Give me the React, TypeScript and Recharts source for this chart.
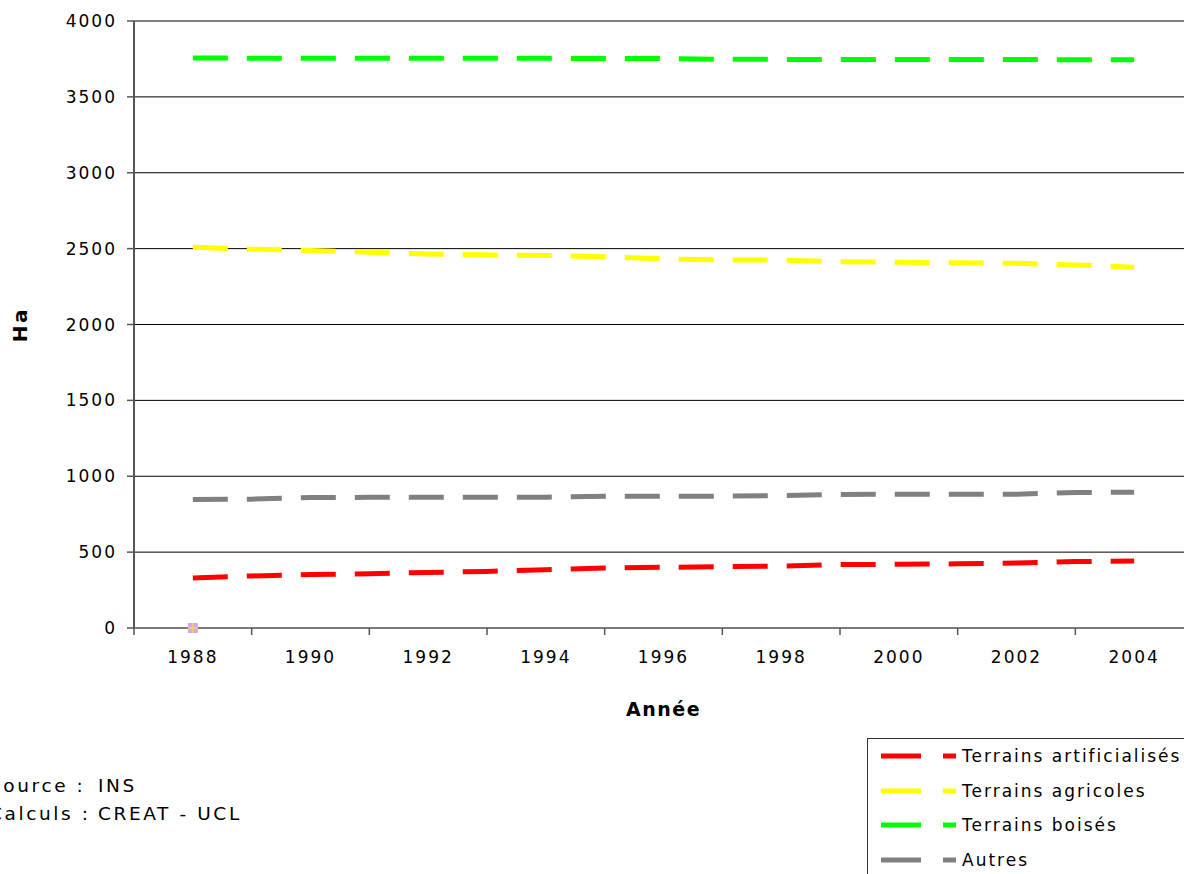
import { CartesianGrid, Line, LineChart, XAxis, YAxis } from "recharts";

const years = [1988, 1989, 1990, 1991, 1992, 1993, 1994, 1995, 1996, 1997, 1998, 1999, 2000, 2001, 2002, 2003, 2004];
const artificialises = [330, 343, 352, 358, 366, 373, 384, 396, 400, 404, 408, 418, 420, 423, 428, 438, 441];
const agricoles = [2509, 2496, 2488, 2476, 2465, 2459, 2455, 2447, 2432, 2426, 2424, 2414, 2410, 2407, 2403, 2392, 2378];
const boises = [3756, 3755, 3755, 3755, 3754, 3754, 3754, 3753, 3753, 3748, 3747, 3747, 3746, 3746, 3746, 3745, 3745];
const autres = [847, 849, 860, 861, 861, 861, 862, 869, 869, 869, 872, 880, 881, 881, 882, 893, 895];
const total = [0];

const yTicks = [0, 500, 1000, 1500, 2000, 2500, 3000, 3500, 4000];
const labelYears = [1988, 1990, 1992, 1994, 1996, 1998, 2000, 2002, 2004];
const tickMarkYears = [1987, 1989, 1991, 1993, 1995, 1997, 1999, 2001, 2003, 2005];

const SERIES = [
  { key: "artificialises", name: "Terrains artificialisés", color: "#ff0000" },
  { key: "agricoles", name: "Terrains agricoles", color: "#ffff00" },
  { key: "boises", name: "Terrains boisés", color: "#00ff00" },
  { key: "autres", name: "Autres", color: "#808080" },
];

const data = years.map((year, i) => ({
  year,
  artificialises: artificialises[i],
  agricoles: agricoles[i],
  boises: boises[i],
  autres: autres[i],
  total: i < total.length ? total[i] : null,
}));

const FONT = "'DejaVu Sans', Verdana, sans-serif";
const TEXT_STYLE = { fontFamily: FONT, fontSize: 17, letterSpacing: 2, fill: "#000" };
const TITLE_STYLE = { ...TEXT_STYLE, fontSize: 19, fontWeight: "bold", letterSpacing: 1.5 };
const DASH = "35 19";

function XTick({ x, y, payload }: any) {
  const year = payload.value;
  if (tickMarkYears.includes(year)) {
    return <line x1={x} y1={y} x2={x} y2={y + 7} stroke="#555" strokeWidth={1.5} />;
  }
  return (
    <text x={x} y={y + 35} textAnchor="middle" style={TEXT_STYLE}>
      {year}
    </text>
  );
}

function YTick({ x, y, payload }: any) {
  return (
    <text x={x} y={y + 6} textAnchor="end" style={TEXT_STYLE}>
      {payload.value}
    </text>
  );
}

function TotalDot({ cx, cy, value }: any) {
  if (value == null || cx == null) return null;
  return (
    <g>
      <rect x={cx - 5} y={cy - 5} width={10} height={10} fill="#d4a6ee" />
      <line x1={cx - 5} y1={cy} x2={cx + 5} y2={cy} stroke="#f5d060" strokeWidth={1.5} />
      <line x1={cx} y1={cy - 5} x2={cx} y2={cy + 5} stroke="#f5d060" strokeWidth={1.5} />
    </g>
  );
}

export default function App() {
  return (
    <div
      style={{
        position: "fixed",
        left: 0,
        top: 0,
        width: 1184,
        height: 874,
        overflow: "hidden",
        background: "#fff",
        fontFamily: FONT,
      }}
    >
      <LineChart
        width={1260}
        height={874}
        data={data}
        margin={{ top: 21, right: 67, left: 0, bottom: 146 }}
        style={{ position: "absolute", left: 0, top: 0 }}
      >
        <CartesianGrid vertical={false} stroke="#000" />
        <XAxis
          dataKey="year"
          type="number"
          domain={[1987, 2005]}
          ticks={[...tickMarkYears, ...labelYears].sort((a, b) => a - b)}
          interval={0}
          tickLine={false}
          tickSize={0}
          tickMargin={0}
          tick={<XTick />}
          axisLine={{ stroke: "#777", strokeWidth: 1.5 }}
          height={100}
          label={{
            content: ({ viewBox }: any) => (
              <text
                x={viewBox.x + viewBox.width / 2}
                y={viewBox.y + 81}
                textAnchor="middle"
                dominantBaseline="central"
                style={TITLE_STYLE}
              >
                Année
              </text>
            ),
          }}
        />
        <YAxis
          type="number"
          domain={[0, 4000]}
          ticks={yTicks}
          width={134}
          tickSize={7}
          tickMargin={10}
          tick={<YTick />}
          tickLine={{ stroke: "#555", strokeWidth: 1.5 }}
          axisLine={{ stroke: "#555", strokeWidth: 2 }}
          label={{
            content: ({ viewBox }: any) => (
              <text
                x={20}
                y={viewBox.y + viewBox.height / 2}
                textAnchor="middle"
                dominantBaseline="central"
                transform={`rotate(-90 20 ${viewBox.y + viewBox.height / 2})`}
                style={{ ...TITLE_STYLE, fontSize: 20, letterSpacing: 2.5 }}
              >
                Ha
              </text>
            ),
          }}
        />
        {SERIES.map((s) => (
          <Line
            key={s.key}
            type="linear"
            dataKey={s.key}
            name={s.name}
            stroke={s.color}
            strokeWidth={5}
            strokeDasharray={DASH}
            strokeLinecap="butt"
            dot={false}
            activeDot={false}
            isAnimationActive={false}
          />
        ))}
        <Line
          type="linear"
          dataKey="total"
          stroke="none"
          dot={<TotalDot />}
          activeDot={false}
          legendType="none"
          isAnimationActive={false}
        />
      </LineChart>

      <div
        style={{
          position: "absolute",
          left: -11,
          top: 772,
          fontSize: 18.5,
          letterSpacing: 2.6,
          lineHeight: "28px",
          display: "grid",
          gridTemplateColumns: "109px auto",
          color: "#000",
        }}
      >
        <span>Source :</span>
        <span>INS</span>
        <span>Calculs :</span>
        <span>CREAT - UCL</span>
      </div>

      <div
        style={{
          position: "absolute",
          left: 867,
          top: 738,
          width: 340,
          height: 160,
          border: "1px solid #333",
          background: "#fff",
        }}
      >
        {SERIES.map((s, i) => (
          <div
            key={s.key}
            style={{
              position: "absolute",
              left: 0,
              top: 4 + i * 34.5,
              height: 26,
              display: "flex",
              alignItems: "center",
            }}
          >
            <svg width={94} height={26} style={{ display: "block" }}>
              <line x1={13} y1={13} x2={53} y2={13} stroke={s.color} strokeWidth={5} />
              <line x1={75} y1={13} x2={88} y2={13} stroke={s.color} strokeWidth={5} />
            </svg>
            <span style={{ fontSize: 17, letterSpacing: 2, color: "#000", whiteSpace: "nowrap" }}>
              {s.name}
            </span>
          </div>
        ))}
      </div>
    </div>
  );
}
